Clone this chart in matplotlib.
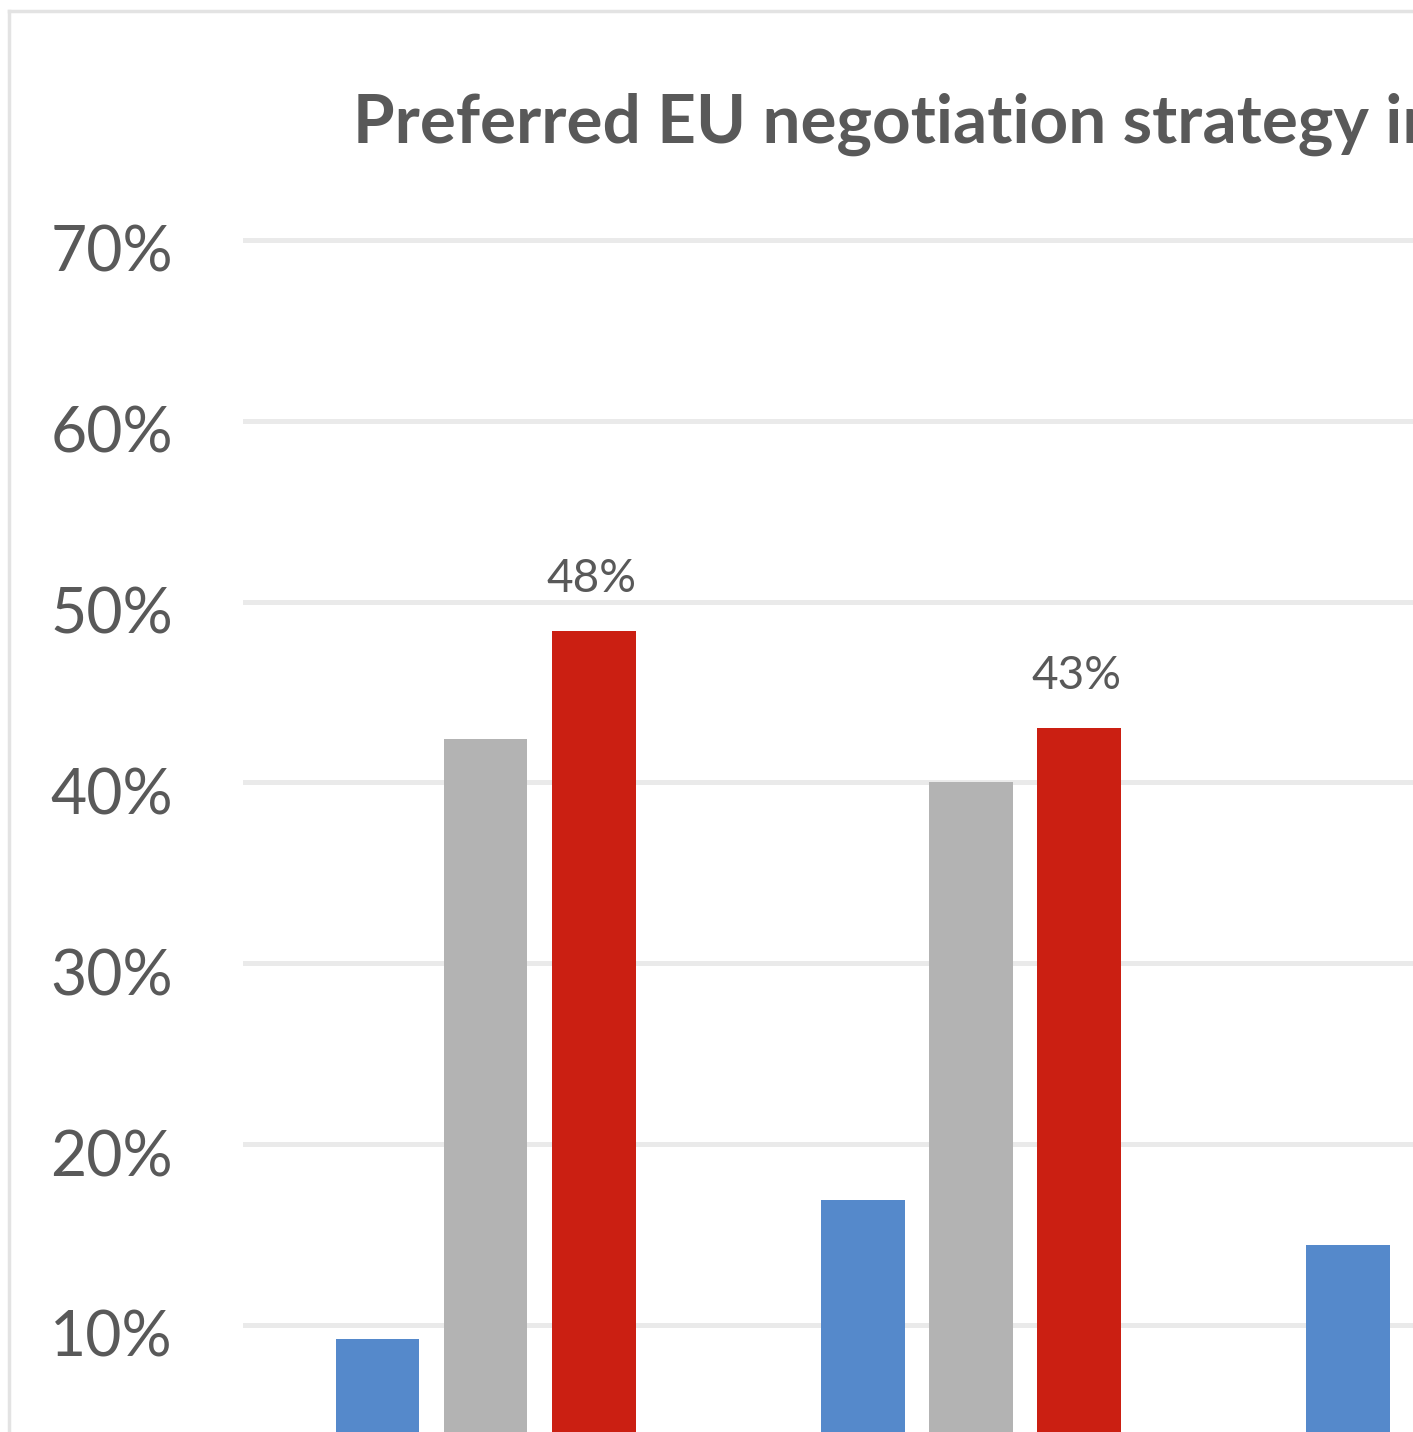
import numpy as np
import matplotlib
matplotlib.use("Agg")
import matplotlib.pyplot as plt
from matplotlib.lines import Line2D

# Data (percent)
categories = ["A", "B", "C"]
blue_vals = [9.2, 16.9, 14.4]
gray_vals = [42.4, 40.0]
red_vals = [48.4, 43.0]
y_ticks = [10, 20, 30, 40, 50, 60, 70]
title = "Preferred EU negotiation strategy in"

BLUE = "#5589CB"
GRAY = "#B3B3B3"
RED = "#CB1F12"
TEXT = "#595959"
GRID = "#EAEAEA"

plt.rcParams['font.family'] = ['Lato', 'DejaVu Sans']

W, H = 1413, 1432
fig = plt.figure(figsize=(W / 100, H / 100), dpi=100)
fig.patch.set_facecolor("white")

# plot area: left edge at 243 px, covers full height
ax = fig.add_axes([243 / W, 0, (W - 243) / W, 1])
ax.set_xlim(-0.5, 1.912)
ax.set_ylim(4.08, 83.27)

stride = 0.2227
width = 0.173
x = np.arange(len(categories))

ax.bar(x[:len(blue_vals)] - stride, blue_vals, width, color=BLUE, zorder=3)
ax.bar(x[:len(gray_vals)], gray_vals, width, color=GRAY, zorder=3)
ax.bar(x[:len(red_vals)] + stride, red_vals, width, color=RED, zorder=3)

# gridlines
for v in y_ticks:
    ax.axhline(v, color=GRID, lw=3.6, zorder=1)

# data labels on red bars
for xi, v in zip(x[:len(red_vals)] + stride, red_vals):
    ax.annotate(f"{v:.0f}%", xy=(xi, v), xytext=(-2, 39), textcoords="offset pixels",
                ha="center", va="baseline", fontsize=33, color=TEXT)

# y tick labels
for v in y_ticks:
    ax.annotate(f"{v}%", xy=(0, v), xycoords=("axes fraction", "data"),
                xytext=(-70, -32), textcoords="offset pixels",
                ha="right", va="baseline", fontsize=45, color=TEXT,
                annotation_clip=False)

ax.set_xticks([])
ax.set_yticks([])
for s in ax.spines.values():
    s.set_visible(False)
ax.patch.set_alpha(0)

# title
fig.text(353 / W, 1 - 143 / H, title, ha="left", va="baseline",
         fontsize=48.5, fontweight="bold", color=TEXT)

# chart border (top and left edges visible)
fig.add_artist(Line2D([9 / W, 1], [1 - 11 / H, 1 - 11 / H], color="#E3E3E3", lw=2.5,
                      transform=fig.transFigure))
fig.add_artist(Line2D([9 / W, 9 / W], [0, 1 - 11 / H], color="#E3E3E3", lw=2.5,
                      transform=fig.transFigure))

plt.savefig("out.png", dpi=100)
